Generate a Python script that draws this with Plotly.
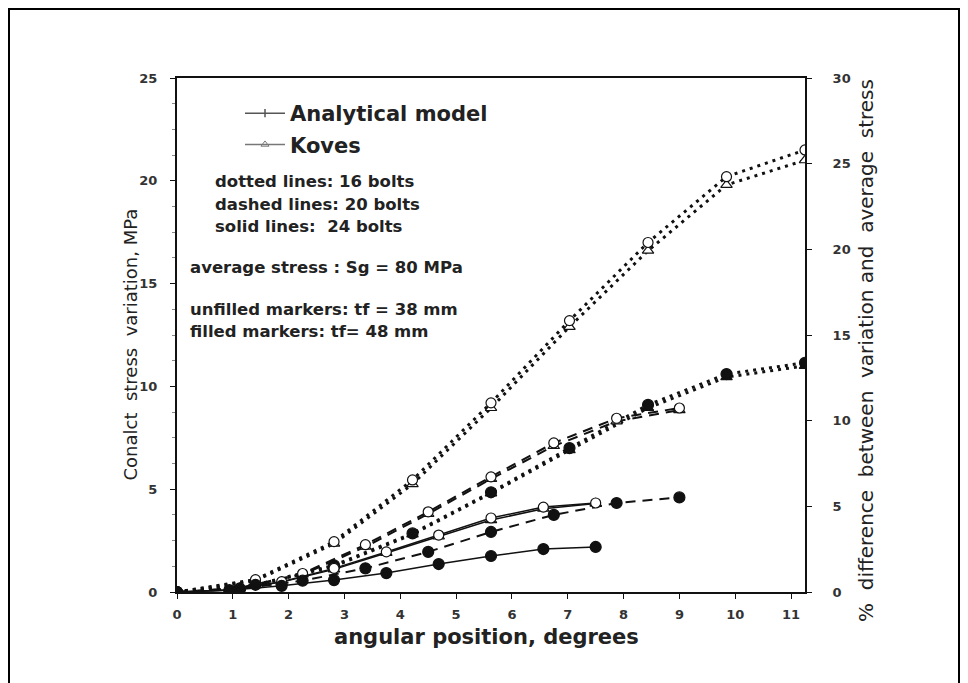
import plotly.graph_objects as go

# angular positions (degrees) for each bolt count
x16 = [0, 1.406, 2.813, 4.219, 5.625, 7.031, 8.438, 9.844, 11.25]
x20 = [0, 1.125, 2.25, 3.375, 4.5, 5.625, 6.75, 7.875, 9.0]
x24 = [0, 0.938, 1.875, 2.813, 3.75, 4.688, 5.625, 6.563, 7.5]

# contact stress variation, MPa
an16_38 = [0, 0.6, 2.45, 5.45, 9.2, 13.2, 17.0, 20.2, 21.5]
kv16_38 = [0, 0.55, 2.35, 5.25, 8.95, 12.9, 16.6, 19.8, 21.0]
an16_48 = [0, 0.35, 1.3, 2.85, 4.85, 7.0, 9.1, 10.6, 11.15]
kv16_48 = [0, 0.33, 1.25, 2.8, 4.8, 6.9, 8.95, 10.45, 11.0]
an20_38 = [0, 0.2, 0.9, 2.3, 3.9, 5.6, 7.25, 8.45, 8.95]
kv20_38 = [0, 0.18, 0.85, 2.2, 3.8, 5.5, 7.1, 8.3, 8.85]
an20_48 = [0, 0.15, 0.55, 1.15, 1.95, 2.92, 3.75, 4.33, 4.6]
an24_38 = [0, 0.1, 0.5, 1.15, 1.95, 2.77, 3.6, 4.13, 4.33]
kv24_38 = [0, 0.1, 0.48, 1.1, 1.9, 2.7, 3.5, 4.05, 4.3]
an24_48 = [0, 0.08, 0.3, 0.58, 0.92, 1.36, 1.75, 2.09, 2.19]

x_ticks = list(range(0, 12))
y_ticks = [0, 5, 10, 15, 20, 25]
y2_ticks = [0, 5, 10, 15, 20, 25, 30]

BLACK = "#111111"
TXT = "#222222"
FONT = "DejaVu Sans, Verdana, sans-serif"

DOT = "3px,5px"
DASH = "10px,7px"

fig = go.Figure()

def add(x, y, dash, width, symbol, filled, size=10):
    fig.add_trace(go.Scatter(
        x=x, y=y, mode="lines+markers", showlegend=False,
        line=dict(color=BLACK, width=width, dash=dash),
        marker=dict(symbol=symbol, size=size,
                    color=BLACK if filled else "white",
                    line=dict(color=BLACK, width=1.2)),
    ))

add(x16, kv16_38, DOT, 3, "triangle-up", False)
add(x16, an16_38, DOT, 3, "circle", False)
add(x16, kv16_48, DOT, 3, "triangle-up", True)
add(x16, an16_48, DOT, 3, "circle", True, 11)
add(x20, kv20_38, DASH, 2, "triangle-up", False)
add(x20, an20_38, DASH, 2, "circle", False)
add(x20, an20_48, DASH, 2, "circle", True, 11)
add(x24, kv24_38, "solid", 1.5, "triangle-up", False)
add(x24, an24_38, "solid", 1.5, "circle", False)
add(x24, an24_48, "solid", 1.5, "circle", True, 11)

# legend entries
fig.add_trace(go.Scatter(x=[None], y=[None], mode="lines+markers", name="Analytical model",
                         legendgroup="a",
                         line=dict(color="#555555", width=1.5),
                         marker=dict(symbol="line-ns-open", size=6, color="#555555",
                                     line=dict(color="#555555", width=1.5))))
fig.add_trace(go.Scatter(x=[None], y=[None], mode="lines+markers", name="Koves",
                         legendgroup="k",
                         line=dict(color="#777777", width=1.5),
                         marker=dict(symbol="triangle-up-open", size=7, color="#777777")))

# secondary axis dummy
fig.add_trace(go.Scatter(x=[None], y=[None], yaxis="y2", showlegend=False))

OFF = 8  # page body margin
W, H = 952, 675
L, T = 177 - OFF, 78 - OFF
pw, ph = 628, 514
R, B = W - L - pw, H - T - ph

def px(xp):
    return (xp - OFF - L) / pw

def py(yp):
    return (H - B - (yp - OFF)) / ph

axis_font = dict(family=FONT, size=13, color="#333333", weight="bold")

fig.update_layout(
    width=W, height=H,
    margin=dict(l=L, r=R, t=T, b=B),
    paper_bgcolor="white", plot_bgcolor="white",
    font=dict(family=FONT, color=TXT),
    xaxis=dict(range=[0, 11.25], tickvals=x_ticks, ticks="outside", ticklen=5,
               tickcolor=BLACK, showline=True, linecolor=BLACK, linewidth=2,
               mirror=True, showgrid=False, zeroline=False,
               tickfont=axis_font, ticklabelstandoff=4),
    yaxis=dict(range=[0, 25], tickvals=y_ticks, ticks="outside", ticklen=5,
               tickcolor=BLACK, showline=True, linecolor=BLACK, linewidth=2,
               showgrid=False, zeroline=False, tickfont=axis_font,
               ticklabelstandoff=10,
               minor=dict(ticks="outside", ticklen=3, dtick=1.25, tickcolor="#888888")),
    yaxis2=dict(range=[0, 30], tickvals=y2_ticks, overlaying="y", side="right",
                ticks="outside", ticklen=5, tickcolor=BLACK, showline=True,
                linecolor=BLACK, linewidth=2, showgrid=False, zeroline=False,
                tickfont=axis_font, ticklabelstandoff=18),
    legend=dict(x=px(240), y=py(93), xanchor="left", yanchor="top",
                bgcolor="rgba(0,0,0,0)",
                font=dict(family=FONT, size=21, color=TXT, weight="bold"),
                itemwidth=40, tracegroupgap=1),
)

notes = [
    ("dotted lines: 16 bolts", 213, 182),
    ("dashed lines: 20 bolts", 213, 204),
    ("solid lines:  24 bolts", 213, 226),
    ("average stress : Sg = 80 MPa", 188, 267),
    ("unfilled markers: tf = 38 mm", 188, 309),
    ("filled markers: tf= 48 mm", 188, 331),
]
for text, xp, yp in notes:
    fig.add_annotation(text=text, x=px(xp), y=py(yp), xref="paper", yref="paper",
                       xanchor="left", yanchor="middle", showarrow=False,
                       font=dict(family=FONT, size=16.5, color=TXT, weight="bold"))

# axis titles
fig.add_annotation(text="angular position, degrees", x=px(486), y=py(651),
                   xref="paper", yref="paper", showarrow=False,
                   font=dict(family=FONT, size=21, color=TXT, weight="bold"))
fig.add_annotation(text="Conalct  stress  variation, MPa", x=px(118), y=py(345),
                   xref="paper", yref="paper", showarrow=False, textangle=-90,
                   font=dict(family=FONT, size=18, color=TXT))
fig.add_annotation(text="%  difference  between  variation and  average  stress",
                   x=px(880), y=py(351), xref="paper", yref="paper", showarrow=False,
                   textangle=-90, font=dict(family=FONT, size=20, color=TXT))

# outer frame
fig.add_shape(type="rect", xref="paper", yref="paper",
              x0=px(OFF + 1), x1=px(959), y0=py(710), y1=py(OFF + 1),
              line=dict(color="black", width=2), fillcolor="rgba(0,0,0,0)", layer="above")

fig.write_html("out.html")
